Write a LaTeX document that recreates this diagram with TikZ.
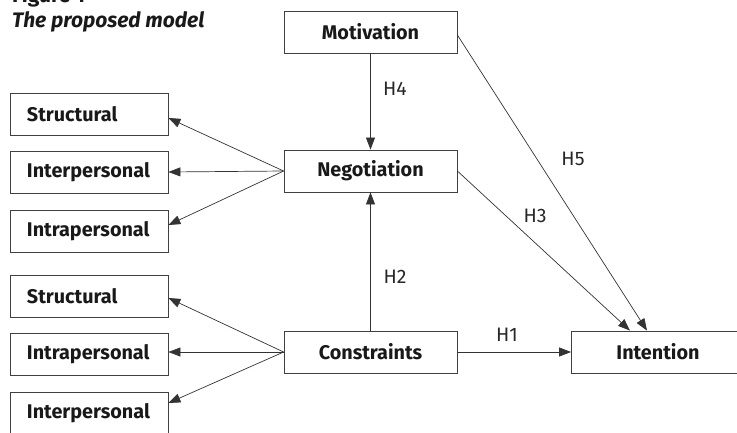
\documentclass[tikz,border=0pt]{standalone}
\usepackage{fontspec}
\setmainfont{Fira Sans}
\usetikzlibrary{arrows.meta}
\begin{document}
\begin{tikzpicture}[x=1pt,y=-1pt,
  boxfont/.style={font=\fontsize{19.8}{22}\selectfont\bfseries},
  box/.style={draw=black!75, line width=0.8pt, minimum width=173pt, minimum height=42pt, inner sep=0pt, boxfont, text=black!90},
  lbox/.style={draw=black!75, line width=0.8pt, text width=124pt, inner xsep=17pt, inner ysep=0pt, minimum height=42pt, align=left, boxfont, text=black!90},
  arr/.style={draw=black!80, line width=0.7pt, -{Triangle[length=12pt,width=9pt]}},
  hl/.style={font=\fontsize{19.5}{22}\selectfont, text=black!85, inner sep=0pt}
]
\useasboundingbox (0,0) rectangle (737,432);
% title
\node[anchor=base west, inner sep=0pt, font=\fontsize{21}{24}\selectfont\bfseries, text=black!90] (fig) at (12,2) {Figure 1};
\node[anchor=base west, inner sep=0pt, font=\fontsize{21}{24}\selectfont\bfseries\itshape, text=black!90] (ttl) at (12,27) {The proposed model};
% main boxes
\node[box] (mot) at (370.5,32) {Motivation};
\node[box] (neg) at (370.5,171) {Negotiation};
\node[box] (con) at (370.5,352) {Constraints};
\node[box] (int) at (658,352) {Intention};
% left boxes
\node[lbox] (s1) at (89,114) {Structural};
\node[lbox] (p1) at (89,172) {Interpersonal};
\node[lbox] (a1) at (89,231) {Intrapersonal};
\node[lbox] (s2) at (89,296) {Structural};
\node[lbox] (a2) at (89,354) {Intrapersonal};
\node[lbox] (p2) at (89,413) {Interpersonal};
% arrows to left
\draw[arr] (neg.west) -- ([yshift=-4pt]s1.east);
\draw[arr] (neg.west) -- (p1.east);
\draw[arr] (neg.west) -- ([yshift=6pt]a1.east);
\draw[arr] (con.west) -- ([yshift=-2pt]s2.east);
\draw[arr] (con.west) -- ([yshift=2pt]a2.east);
\draw[arr] (con.west) -- ([yshift=10pt]p2.east);
% main arrows
\draw[arr] (mot.south) -- (neg.north);
\draw[arr] (con.north) -- (neg.south);
\draw[arr] (con.east) -- (int.west);
\draw[arr] (neg.east) -- ([xshift=-28pt]int.north);
\draw[arr] ([yshift=-3pt]mot.east) -- ([xshift=-11pt]int.north);
% labels
\node[hl] (h4) at (395,89) {H4};
\node[hl] (h2) at (395,277) {H2};
\node[hl] (h1) at (507,335) {H1};
\node[hl] (h3) at (535,216) {H3};
\node[hl] (h5) at (573,159) {H5};
\end{tikzpicture}
\end{document}
